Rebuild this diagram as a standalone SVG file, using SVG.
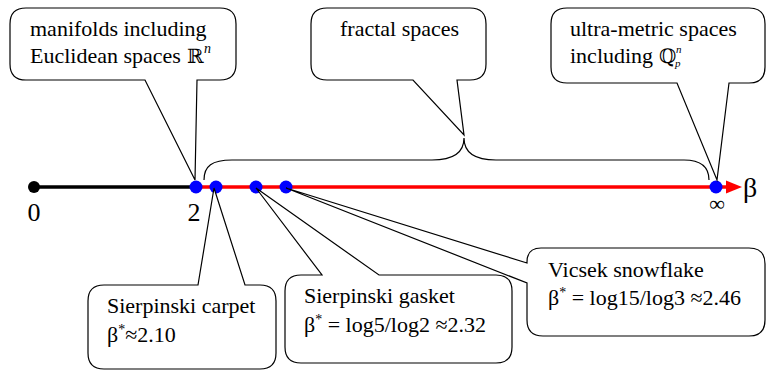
<svg xmlns="http://www.w3.org/2000/svg" width="766" height="372" viewBox="0 0 766 372">
<style>
.call{fill:#fff;stroke:#000;stroke-width:1.2;stroke-linejoin:miter}
.t{font-family:"Liberation Serif","DejaVu Serif",serif;font-size:22px;fill:#000}
.big{font-family:"Liberation Serif","DejaVu Serif",serif;font-size:26px;fill:#000}
.sup{font-size:14px}
.small{font-size:11px}
.dot{fill:#0000ff}
</style>
<rect width="766" height="372" fill="#fff"/>
<g id="connectors">
<line x1="34" y1="187" x2="197" y2="187" stroke="#000" stroke-width="3.5"/>
<line x1="196" y1="187" x2="728" y2="187" stroke="#ff0000" stroke-width="3.5"/>
<polygon points="726,180.5 742,187 726,193.5" fill="#ff0000"/>
<path d="M204,180 C204,166 212,160 232,160 H432 C454,160 464,152 464,138 C464,152 474,160 496,160 H684 C702,160 709,168 709,180" fill="none" stroke="#000" stroke-width="1.2"/>
</g>
<g id="axis-points">
<circle cx="34" cy="187" r="6" fill="#000"/>
<circle class="dot" cx="196" cy="187" r="6.5"/>
<circle class="dot" cx="216" cy="187" r="6.5"/>
<circle class="dot" cx="256" cy="187" r="6.5"/>
<circle class="dot" cx="286" cy="187" r="6.5"/>
<circle class="dot" cx="716" cy="187" r="6.5"/>
<text class="big" x="34" y="221" text-anchor="middle">0</text>
<text class="big" x="194" y="221" text-anchor="middle">2</text>
<text class="t" x="717" y="211" text-anchor="middle">∞</text>
<text class="big" x="743" y="197" style="font-size:28px">β</text>
</g>
<g id="manifolds">
<path class="call" d="M26,8 H220 Q236,8 236,24 V64 Q236,80 220,80 H197 L195,180 L145,80 H26 Q10,80 10,64 V24 Q10,8 26,8 Z"/>
<text class="t" x="30" y="63">Euclidean spaces <tspan x="187" font-size="20">ℝ</tspan><tspan class="sup" font-style="italic" x="204" y="53">n</tspan></text>
<text class="t" x="30" y="36">manifolds including</text>
</g>
<g id="fractal">
<path class="call" d="M327,8 H470 Q486,8 486,24 V64 Q486,80 470,80 H457 L464,135 L413,80 H327 Q311,80 311,64 V24 Q311,8 327,8 Z"/>
<text class="t" x="340" y="36">fractal spaces</text>
</g>
<g id="ultrametric">
<path class="call" d="M567,8 H749 Q765,8 765,24 V67 Q765,83 749,83 H729 L717,180 L677,83 H567 Q551,83 551,67 V24 Q551,8 567,8 Z"/>
<text class="t" x="570" y="36">ultra-metric spaces</text>
<text class="t" x="570" y="63">including <tspan x="659" font-size="20">ℚ</tspan><tspan class="small" font-style="italic" x="676" y="53">n</tspan><tspan class="small" font-style="italic" x="675" y="67">p</tspan></text>
</g>
<g id="carpet">
<path class="call" d="M104,285 H198 L214,188 L245,285 H260 Q276,285 276,301 V353 Q276,369 260,369 H104 Q88,369 88,353 V301 Q88,285 104,285 Z"/>
<text class="t" x="107" y="313">Sierpinski carpet</text>
<text class="t" x="107" y="342">β<tspan class="sup" dy="-8">*</tspan><tspan dy="8">≈2.10</tspan></text>
</g>
<g id="gasket">
<path class="call" d="M301,275 H322 L256,188 L379,275 H496 Q512,275 512,291 V347 Q512,363 496,363 H301 Q285,363 285,347 V291 Q285,275 301,275 Z"/>
<text class="t" x="304" y="303">Sierpinski gasket</text>
<text class="t" x="304" y="332">β<tspan class="sup" dy="-8">*</tspan><tspan dy="8"> = log5/log2 ≈2.32</tspan></text>
</g>
<g id="vicsek">
<path class="call" d="M541,248 H749 Q765,248 765,264 V320 Q765,336 749,336 H543 Q527,336 527,320 V283 L286,188 L527,263 V262 Q527,248 541,248 Z"/>
<text class="t" x="548" y="277">Vicsek snowflake</text>
<text class="t" x="548" y="305">β<tspan class="sup" dy="-8">*</tspan><tspan dy="8"> = log15/log3 ≈2.46</tspan></text>
</g>
</svg>
